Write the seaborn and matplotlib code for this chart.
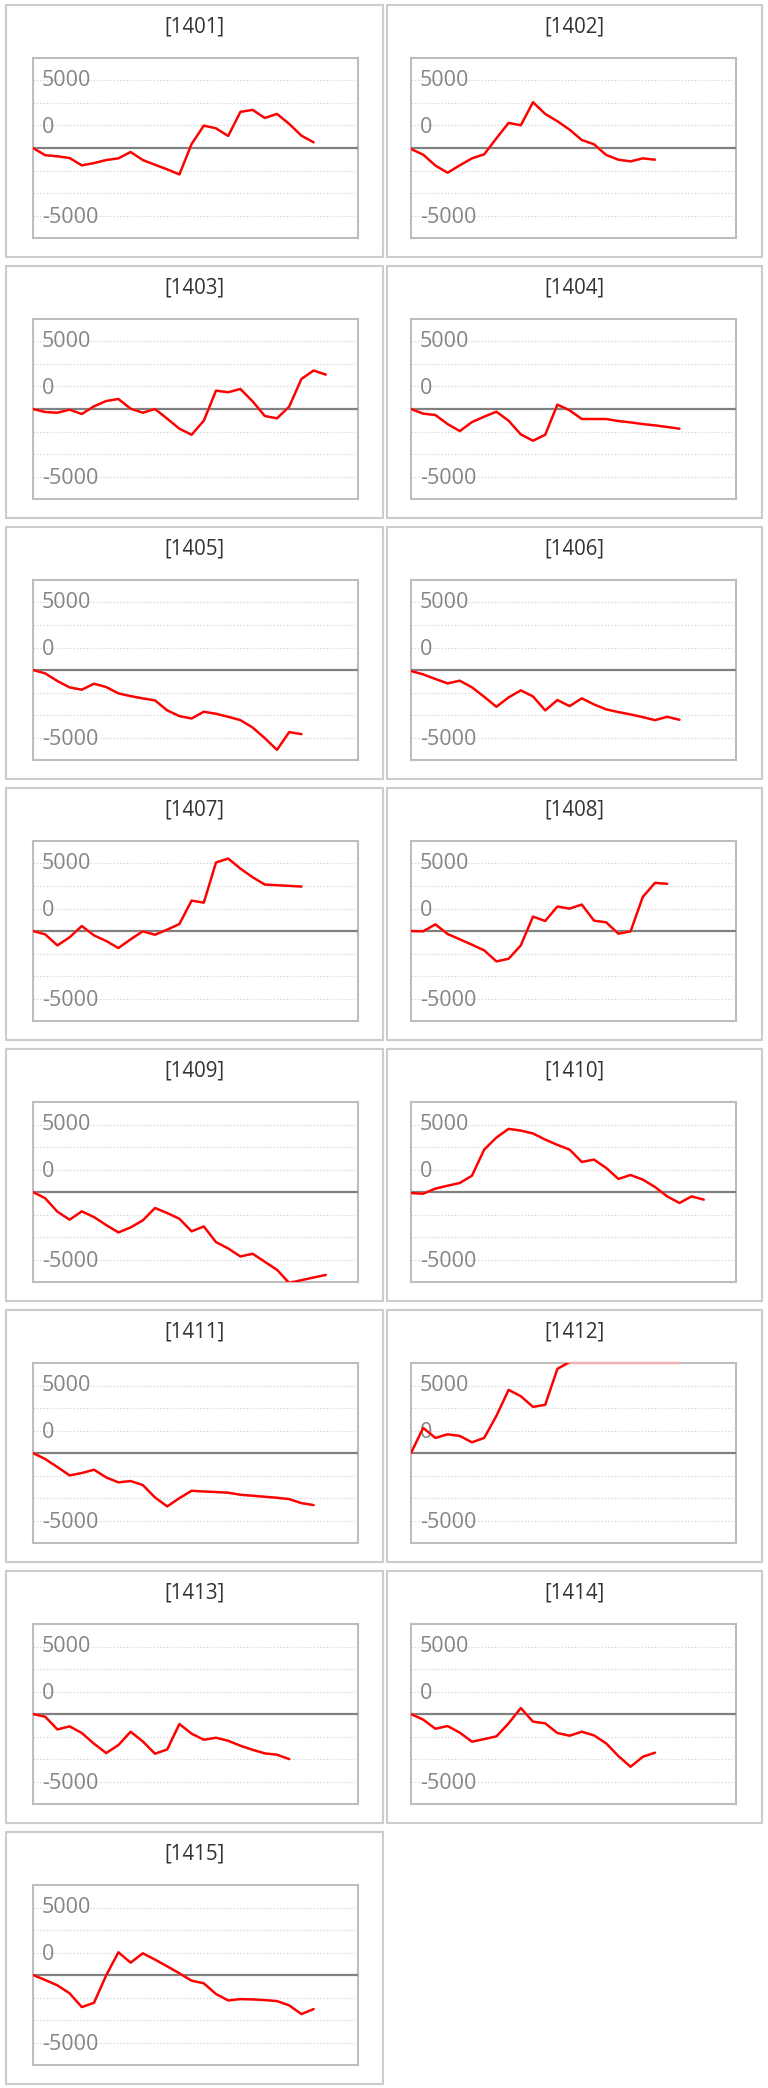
import numpy as np
import pandas as pd
import matplotlib
matplotlib.use("Agg")
import matplotlib.pyplot as plt
import matplotlib.transforms as mtransforms
from matplotlib.patches import Rectangle
import seaborn as sns

sns.set_theme(style="white")
plt.rcParams["font.family"] = ["Open Sans", "DejaVu Sans"]

# ---------------- data (cumulative values per code) ----------------
CODES = ["1401", "1402", "1403", "1404", "1405", "1406", "1407", "1408",
         "1409", "1410", "1411", "1412", "1413", "1414", "1415"]

S1401 = [0, -640, -740, -890, -1545, -1340, -1070, -920, -356, -1070, -1490, -1900,
         -2350, 356, 1990, 1750, 1070, 3210, 3390, 2670, 3030, 2140, 1100, 505]
S1402 = [-90, -590, -1560, -2200, -1540, -920, -560, 860, 2230, 2020, 4070, 3030,
         2380, 1630, 710, 330, -620, -1040, -1190, -920, -1040]
S1403 = [0, -270, -330, -60, -445, 240, 710, 890, 30, -330, 0, -860, -1750, -2290,
         -1040, 1630, 1490, 1780, 680, -620, -830, 210, 2670, 3420, 3060]
S1404 = [0, -415, -535, -1340, -1960, -1160, -680, -240, -1040, -2260, -2820, -2290,
         390, -120, -890, -890, -890, -1070, -1190, -1340, -1455, -1600, -1750]
S1405 = [0, -300, -980, -1545, -1750, -1220, -1515, -2080, -2320, -2525, -2700, -3590,
         -4100, -4310, -3710, -3890, -4160, -4455, -5110, -6060, -7100, -5520, -5700]
S1406 = [-90, -390, -800, -1190, -950, -1545, -2380, -3270, -2440, -1810, -2350, -3590,
         -2670, -3210, -2520, -3060, -3500, -3740, -3950, -4190, -4455, -4160, -4425]
S1407 = [0, -300, -1280, -560, 445, -390, -890, -1515, -740, -30, -330, 120, 620,
         2700, 2520, 6090, 6440, 5550, 4780, 4130, 4070, 4010, 3950]
S1408 = [0, -30, 590, -270, -740, -1220, -1720, -2700, -2470, -1280, 1280, 890, 2170,
         1990, 2350, 920, 770, -240, -30, 3030, 4280, 4190]
S1409 = [0, -560, -1750, -2460, -1720, -2230, -2940, -3590, -3150, -2520, -1425, -1870,
         -2380, -3500, -3060, -4455, -5020, -5730, -5490, -6200, -6920, -8100, -7840,
         -7600, -7370]
S1410 = [-90, -150, 300, 560, 800, 1455, 3770, 4840, 5610, 5460, 5200, 4660, 4190, 3770,
         2670, 2880, 2140, 1160, 1510, 1100, 445, -390, -980, -390, -680]
S1411 = [0, -535, -1250, -1990, -1780, -1485, -2170, -2610, -2490, -2850, -3950, -4750,
         -4010, -3360, -3420, -3470, -3530, -3710, -3800, -3890, -3980, -4100, -4455, -4630]
S1412 = [0, 2230, 1340, 1660, 1515, 950, 1340, 3300, 5610, 5050, 4100, 4280, 7480,
         8100, 8500, 8900, 9300, 9100, 9600, 9800, 10200, 10000, 10400]
S1413 = [0, -240, -1370, -1100, -1690, -2640, -3470, -2760, -1575, -2440, -3530, -3150,
         -890, -1750, -2290, -2110, -2380, -2820, -3180, -3500, -3620, -4010]
S1414 = [0, -505, -1310, -1070, -1660, -2460, -2230, -1990, -830, 530, -680, -830,
         -1690, -1930, -1575, -1900, -2610, -3740, -4690, -3800, -3440]
S1415 = [0, -445, -920, -1630, -2850, -2470, -30, 2020, 1100, 1930, 1370, 770, 150,
         -505, -740, -1690, -2260, -2140, -2170, -2230, -2320, -2700, -3475, -3030]

SERIES = [S1401, S1402, S1403, S1404, S1405, S1406, S1407, S1408,
          S1409, S1410, S1411, S1412, S1413, S1414, S1415]

GRID_VALUES = [-6000, -4000, -2000, 2000, 4000, 6000]
AXIS_LABELS = ["5000", "0", "-5000"]

# ---------------- layout ----------------
W, H = 768, 2088
PITCH = 261
YLIM = 8000
XMAX = 26.64

fig = plt.figure(figsize=(W / 100, H / 100), dpi=100)
fig.patch.set_facecolor("white")

label_pos = [6000, 1820, -6180]

for i, (code, vals) in enumerate(zip(CODES, SERIES)):
    r, c = divmod(i, 2)
    px0, px1 = (6, 383) if c == 0 else (387, 762)
    ptop, pbot = r * PITCH + 5, r * PITCH + 257
    fig.patches.append(Rectangle((px0 / W, 1 - pbot / H), (px1 - px0) / W, (pbot - ptop) / H,
                                 transform=fig.transFigure, fill=False,
                                 edgecolor="#cccccc", lw=1.5))
    fig.text((px0 + px1) / 2 / W, 1 - (r * PITCH + 27) / H, f"[{code}]",
             ha="center", va="center", fontsize=14.8, color="#333333")

    bx0 = 33 if c == 0 else 411
    by1 = r * PITCH + 238
    ax = fig.add_axes([bx0 / W, 1 - by1 / H, 325 / W, 180 / H])
    ax.set_facecolor("white")

    df = pd.DataFrame({"day": np.arange(len(vals)), "value": vals})
    df["clamped"] = df["value"].clip(-YLIM, YLIM)

    for g in GRID_VALUES:
        ax.axhline(g, color="#d2d2d2", lw=0.8, ls=(0, (1.2, 1.8)), zorder=0.5)
    ax.axhline(0, color="#808080", lw=1.6, zorder=1.1)

    trans = mtransforms.blended_transform_factory(ax.transAxes, ax.transData)
    for lab, yp in zip(AXIS_LABELS, label_pos):
        ax.text(0.028, yp, lab, transform=trans, ha="left", va="center",
                fontsize=15.5, color="#858585", zorder=1.2)

    sns.lineplot(data=df, x="day", y="clamped", ax=ax, color="#f4b0b0", lw=1.7,
                 zorder=1.5, clip_on=False)
    sns.lineplot(data=df, x="day", y="value", ax=ax, color="#ff0000", lw=1.7, zorder=2)

    ax.set_xlim(0, XMAX)
    ax.set_ylim(-YLIM, YLIM)
    ax.set_xticks([])
    ax.set_yticks([])
    ax.set_xlabel("")
    ax.set_ylabel("")
    for s in ax.spines.values():
        s.set_visible(True)
        s.set_color("#bdbdbd")
        s.set_linewidth(1.5)
        s.set_zorder(1)

fig.savefig("out.png", dpi=100, facecolor="white")
